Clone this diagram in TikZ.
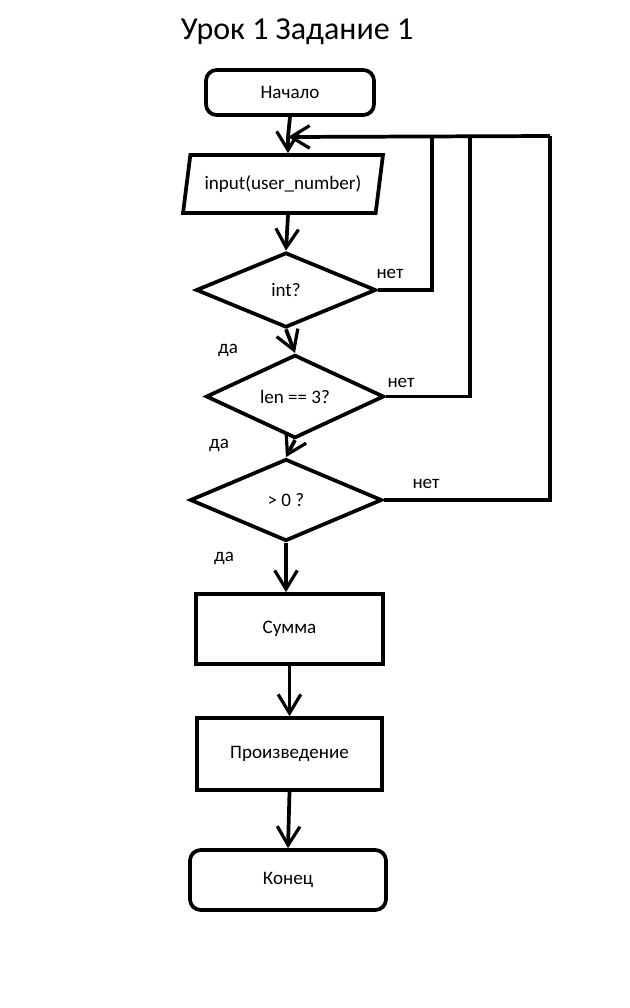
\documentclass[tikz,border=0pt]{standalone}
\usepackage{fontspec}
\setmainfont{Carlito}
\usetikzlibrary{shapes.geometric,arrows.meta}
\begin{document}
\begin{tikzpicture}[x=0.75pt,y=-0.75pt,
  every node/.style={font=\fontsize{14.3pt}{17pt}\selectfont, inner sep=0pt},
  shp/.style={draw, line width=2.8pt},
  term/.style={shp, rectangle, rounded corners=8pt},
  proc/.style={shp, rectangle},
  dec/.style={shp, diamond},
  io/.style={shp, trapezium, trapezium left angle=70, trapezium right angle=110, trapezium stretches=true},
  conn/.style={line width=2.8pt},
  arr/.style={conn, -{Straight Barb[length=14pt,width=17pt,line width=2.4pt]}},
  lbl/.style={font=\fontsize{14.3pt}{17pt}\selectfont}]
\useasboundingbox (0,0) rectangle (630,1008);
\node[font=\fontsize{24pt}{28pt}\selectfont] (title) at (297,32) {Урок 1 Задание 1};
\node[term, minimum width=126pt, minimum height=33.75pt] (start) at (290,92.5) {Начало};
\node[io, minimum width=150pt, minimum height=43.5pt] (in) at (283,184) {input(user\_number)};
\node[dec, minimum width=135pt, minimum height=56.25pt] (d1) at (286,290) {int?};
\node[dec, minimum width=133.5pt, minimum height=54.75pt] (d2) at (295,396.5) {len == 3?};
\node[dec, minimum width=144pt, minimum height=61.5pt] (d3) at (286,500) {> 0 ?};
\node[proc, minimum width=140.25pt, minimum height=52.5pt] (sum) at (289.5,629) {Сумма};
\node[proc, minimum width=138.75pt, minimum height=54pt] (prod) at (289.5,754) {Произведение};
\node[term, minimum width=147pt, minimum height=45pt] (end) at (288,880) {Конец};
\coordinate (J) at (288,137);
\coordinate (n1) at (432,136);
\coordinate (n2) at (470,136);
\coordinate (n3) at (550,136);
\node[lbl] (no1) at (390,274) {нет};
\node[lbl] (no2) at (401,383) {нет};
\node[lbl] (no3) at (426,484) {нет};
\node[lbl] (yes1) at (228,350) {да};
\node[lbl] (yes2) at (219,445) {да};
\node[lbl] (yes3) at (224,558) {да};
\draw[conn] (start.south) -- (J);
\draw[arr] (J) -- (J|-in.north);
\draw[arr] (in.south-|J) -- (d1.north);
\draw[arr] (d1.south) -- (d2.north);
\draw[arr] (d2.south) -- (d3.north);
\draw[arr] (d3.south) -- (d3.south|-sum.north);
\draw[arr] (sum.south) -- (prod.north);
\draw[arr] (prod.south) -- (end.north);
\draw[conn] (d1.east) -| (n1);
\draw[conn] (d2.east) -| (n2);
\draw[conn] (d3.east) -| (n3);
\draw[arr] (n3) -- (J);
\end{tikzpicture}
\end{document}
